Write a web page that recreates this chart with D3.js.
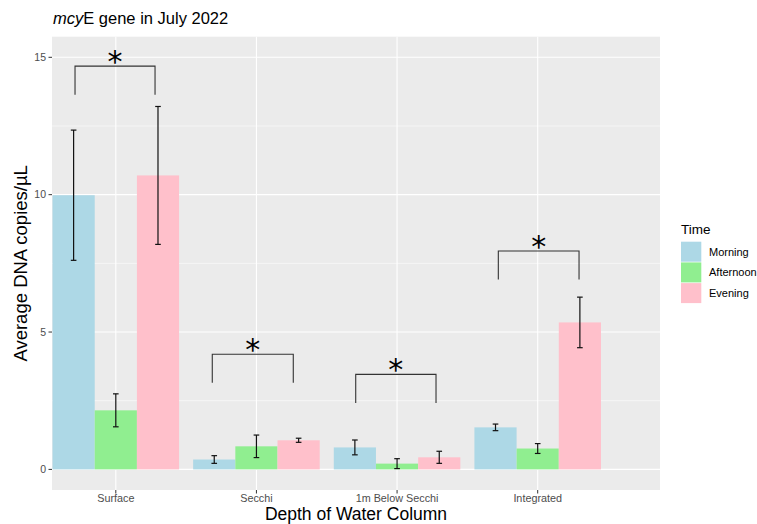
<!DOCTYPE html>
<html>
<head>
<meta charset="utf-8">
<script src="https://cdn.jsdelivr.net/npm/d3@7"></script>
<style>
  html, body { margin: 0; padding: 0; background: #fff; }
  svg { display: block; font-family: "Liberation Sans", Arial, Helvetica, sans-serif; }
</style>
</head>
<body>
<svg id="chart" width="757" height="524"></svg>
<script>
// Sites sampled down the water column and sampling times
const categories = ["Surface", "Secchi", "1m Below Secchi", "Integrated"];
const times = ["Morning", "Afternoon", "Evening"];
const timeColors = ["#ADD8E6", "#90EE90", "#FFC0CB"];

// Mean copies/µL and standard error per site
const morningMean   = [9.98, 0.36, 0.80, 1.53];
const morningSE     = [2.37, 0.14, 0.27, 0.12];
const afternoonMean = [2.15, 0.84, 0.21, 0.76];
const afternoonSE   = [0.60, 0.41, 0.18, 0.18];
const eveningMean   = [10.70, 1.06, 0.44, 5.35];
const eveningSE     = [2.51, 0.075, 0.22, 0.92];

// Significance brackets (x in category units, y in data units)
const bracketLeft  = [0.710, 1.686, 2.706, 3.720];
const bracketRight = [1.279, 2.262, 3.277, 4.294];
const bracketTop   = [14.68, 4.19, 3.46, 7.95];
const bracketDrop  = 1.04;
const bracketLabel = ["*", "*", "*", "*"];

const yTicks = [0, 5, 10, 15];
const yMinor = [2.5, 7.5, 12.5];

const svg = d3.select("#chart");
const panel = { left: 52, right: 660, top: 36.7, bottom: 490 };

const x = d3.scaleLinear().domain([0.5463, 4.8697]).range([panel.left, panel.right]);
const y = d3.scaleLinear().domain([-0.75, 15.75]).range([panel.bottom, panel.top]);

const dodge = 0.9, barW = dodge / times.length;
const series = [
  { mean: morningMean, se: morningSE },
  { mean: afternoonMean, se: afternoonSE },
  { mean: eveningMean, se: eveningSE }
];

// Panel background and grid
svg.append("rect")
  .attr("x", panel.left).attr("y", panel.top)
  .attr("width", panel.right - panel.left).attr("height", panel.bottom - panel.top)
  .attr("fill", "#EBEBEB");

const grid = svg.append("g").attr("stroke", "#fff");
grid.selectAll(".ymin").data(yMinor).join("line")
  .attr("x1", panel.left).attr("x2", panel.right)
  .attr("y1", d => y(d)).attr("y2", d => y(d)).attr("stroke-width", 0.55);
grid.selectAll(".ymaj").data(yTicks).join("line")
  .attr("x1", panel.left).attr("x2", panel.right)
  .attr("y1", d => y(d)).attr("y2", d => y(d)).attr("stroke-width", 1.1);
grid.selectAll(".xmaj").data(categories).join("line")
  .attr("y1", panel.top).attr("y2", panel.bottom)
  .attr("x1", (d, i) => x(i + 1)).attr("x2", (d, i) => x(i + 1)).attr("stroke-width", 1.1);

// Bars
const rows = [];
series.forEach((s, j) => categories.forEach((c, i) => {
  const pos = i + 1 - dodge / 2 + barW * j;
  rows.push({ j, x0: pos, x1: pos + barW, xc: pos + barW / 2, mean: s.mean[i], se: s.se[i] });
}));

svg.append("g").selectAll("rect").data(rows).join("rect")
  .attr("x", d => x(d.x0)).attr("width", d => x(d.x1) - x(d.x0))
  .attr("y", d => y(d.mean)).attr("height", d => y(0) - y(d.mean))
  .attr("fill", d => timeColors[d.j]);

// Error bars
const capHalf = 0.02;
const eb = svg.append("g").attr("stroke", "#111").attr("stroke-width", 1.2).attr("fill", "none");
rows.forEach(d => {
  const lo = d.mean - d.se, hi = d.mean + d.se;
  eb.append("line").attr("x1", x(d.xc)).attr("x2", x(d.xc)).attr("y1", y(lo)).attr("y2", y(hi));
  [lo, hi].forEach(v => eb.append("line")
    .attr("x1", x(d.xc - capHalf)).attr("x2", x(d.xc + capHalf))
    .attr("y1", y(v)).attr("y2", y(v)));
});

// Significance brackets
const br = svg.append("g");
categories.forEach((c, i) => {
  const path = d3.path();
  path.moveTo(x(bracketLeft[i]), y(bracketTop[i] - bracketDrop));
  path.lineTo(x(bracketLeft[i]), y(bracketTop[i]));
  path.lineTo(x(bracketRight[i]), y(bracketTop[i]));
  path.lineTo(x(bracketRight[i]), y(bracketTop[i] - bracketDrop));
  br.append("path").attr("d", path.toString())
    .attr("fill", "none").attr("stroke", "#333").attr("stroke-width", 1.1);
  br.append("text")
    .attr("x", x((bracketLeft[i] + bracketRight[i]) / 2))
    .attr("y", y(bracketTop[i]) + 6)
    .attr("text-anchor", "middle")
    .attr("font-family", "'DejaVu Sans', sans-serif")
    .attr("font-size", 30)
    .attr("fill", "#000")
    .text(bracketLabel[i]);
});

// Y axis
const yAxis = svg.append("g");
yTicks.forEach(t => {
  yAxis.append("line").attr("x1", panel.left - 3.5).attr("x2", panel.left)
    .attr("y1", y(t)).attr("y2", y(t)).attr("stroke", "#333").attr("stroke-width", 1);
  yAxis.append("text").attr("x", panel.left - 6).attr("y", y(t))
    .attr("dy", "0.35em").attr("text-anchor", "end")
    .attr("font-size", 10.5).attr("fill", "#4D4D4D").text(t);
});

// X axis
const xAxis = svg.append("g");
categories.forEach((c, i) => {
  xAxis.append("line").attr("x1", x(i + 1)).attr("x2", x(i + 1))
    .attr("y1", panel.bottom).attr("y2", panel.bottom + 3.5)
    .attr("stroke", "#333").attr("stroke-width", 1);
  xAxis.append("text").attr("x", x(i + 1)).attr("y", panel.bottom + 11.5)
    .attr("text-anchor", "middle").attr("font-size", 10.8).attr("fill", "#4D4D4D").text(c);
});

// Axis titles
svg.append("text")
  .attr("x", (panel.left + panel.right) / 2).attr("y", 520)
  .attr("text-anchor", "middle").attr("font-size", 17.5).attr("fill", "#000")
  .text("Depth of Water Column");

svg.append("text")
  .attr("transform", `translate(27,${(panel.top + panel.bottom) / 2}) rotate(-90)`)
  .attr("text-anchor", "middle").attr("font-size", 18.5).attr("fill", "#000")
  .text("Average DNA copies/µL");

// Title
const title = svg.append("text").attr("x", 53).attr("y", 24)
  .attr("font-size", 16.5).attr("fill", "#000");
title.append("tspan").attr("font-style", "italic").text("mcy");
title.append("tspan").text("E gene in July 2022");

// Legend
const lg = svg.append("g");
lg.append("text").attr("x", 681).attr("y", 234).attr("font-size", 13.5).attr("fill", "#000").text("Time");
times.forEach((t, j) => {
  const ky = 241.7 + j * 20.7;
  lg.append("rect").attr("x", 681).attr("y", ky).attr("width", 20.3).attr("height", 20)
    .attr("fill", timeColors[j]);
  lg.append("text").attr("x", 709).attr("y", ky + 10).attr("dy", "0.35em")
    .attr("font-size", 11).attr("fill", "#000").text(t);
});
</script>
</body>
</html>
